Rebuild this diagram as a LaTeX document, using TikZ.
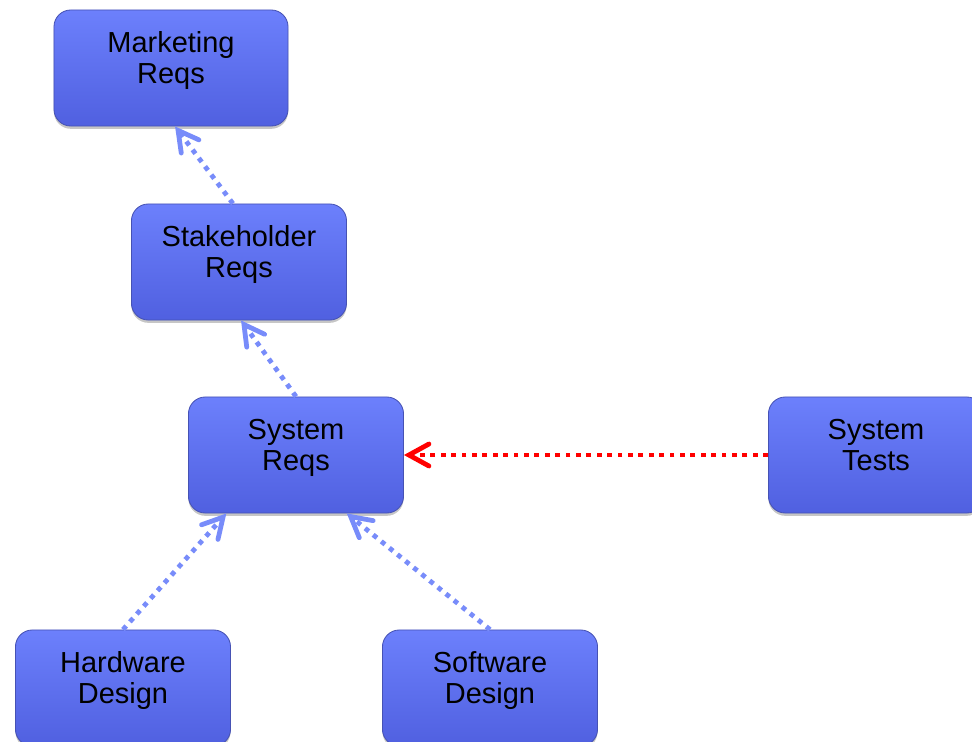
\documentclass[tikz,border=0pt]{standalone}
\usepackage{fontspec}
\setmainfont{Liberation Sans}
\usepackage{tikz}
\usetikzlibrary{arrows.meta, shadows}

\definecolor{boxtop}{RGB}{108,128,252}
\definecolor{boxbot}{RGB}{80,96,224}
\definecolor{boxedge}{RGB}{70,82,180}
\definecolor{linkblue}{RGB}{120,140,250}

\begin{document}
\begin{tikzpicture}[
    x=0.025cm, y=-0.025cm,
    req/.style={rectangle, rounded corners=0.42cm, draw=boxedge, line width=0.6pt,
        top color=boxtop, bottom color=boxbot,
        drop shadow={shadow xshift=0pt, shadow yshift=-2pt, opacity=0.45},
        minimum width=5.375cm, minimum height=2.9cm, align=center,
        font=\fontsize{20.6}{22.3}\selectfont, text depth=0.52cm},
    trace/.style={-{Straight Barb[length=0.5cm, width=0.55cm, line cap=round]},
        draw=linkblue, line width=0.12cm, dash pattern=on 0.12cm off 0.14cm},
    verify/.style={trace, draw=red}
]
\useasboundingbox (0,0) rectangle (972,742);

\node[req, minimum width=5.85cm] (mkt) at (171,68) {Marketing\\Reqs};
\node[req] (stake) at (239,262) {Stakeholder\\Reqs};
\node[req] (sysreq) at (296,455) {System\\Reqs};
\node[req] (systest) at (876,455) {System\\Tests};
\node[req] (hw) at (123,688) {Hardware\\Design};
\node[req] (sw) at (490,688) {Software\\Design};

\draw[trace] (stake.96) -- (mkt.-86);
\draw[trace] (sysreq.90) -- (stake.-88);
\draw[trace] (hw.90) -- (sysreq.220);
\draw[trace] (sw.90) -- (sysreq.-49);
\draw[verify] (systest.west) -- (sysreq.east);
\end{tikzpicture}
\end{document}
